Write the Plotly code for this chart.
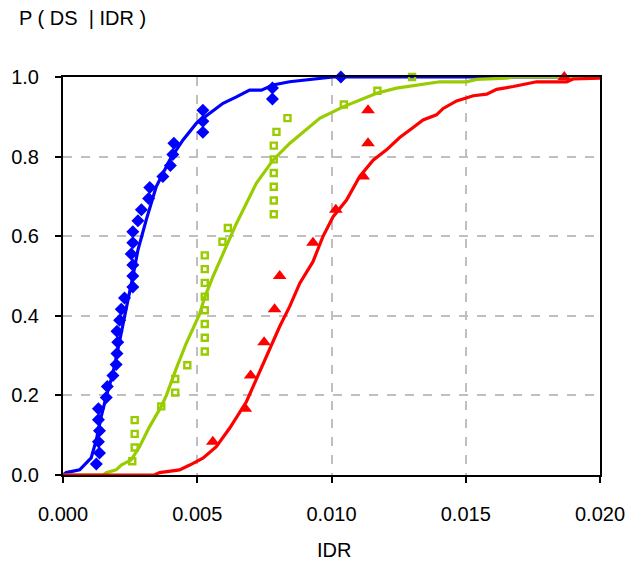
import plotly.graph_objects as go

# Observed damage-state data: interstory drift ratio (IDR) and cumulative probability
ds1_idr = [0.00124, 0.00136, 0.00132, 0.00136, 0.00132, 0.00132, 0.00161, 0.00165,
           0.00186, 0.00198, 0.00201, 0.00204, 0.00201, 0.00211, 0.00217, 0.00229,
           0.00260, 0.00260, 0.00260, 0.00254, 0.00260, 0.00260, 0.00279, 0.00292,
           0.00319, 0.00323, 0.00372, 0.00400, 0.00409, 0.00413, 0.00521, 0.00521,
           0.00521, 0.00780, 0.00780, 0.01035]
ds1_p = [i / 36 for i in range(1, 37)]

ds2_idr = [0.00258, 0.00267, 0.00267, 0.00267, 0.00366, 0.00418, 0.00418, 0.00463,
           0.00528, 0.00528, 0.00528, 0.00528, 0.00528, 0.00528, 0.00528, 0.00528,
           0.00594, 0.00614, 0.00785, 0.00785, 0.00785, 0.00785, 0.00785, 0.00785,
           0.00795, 0.00836, 0.01046, 0.01171, 0.01300]
ds2_p = [i / 29 for i in range(1, 30)]

ds3_idr = [0.00558, 0.00679, 0.00699, 0.00749, 0.00788, 0.00807, 0.00931, 0.01016,
           0.01118, 0.01136, 0.01136, 0.01867]
ds3_p = [i / 12 for i in range(1, 13)]

# Fitted fragility curves
fit1_x = [0.0, 0.00012, 0.00062, 0.00105, 0.00124, 0.00142, 0.00161, 0.00186, 0.00204,
          0.00223, 0.00242, 0.00260, 0.00279, 0.00310, 0.00347, 0.00397, 0.00447,
          0.00497, 0.00521, 0.00558, 0.00596, 0.00646, 0.00695, 0.00739, 0.00782,
          0.00844, 0.00907, 0.00956, 0.01006, 0.02]
fit1_y = [0.0, 0.006, 0.013, 0.043, 0.088, 0.146, 0.197, 0.256, 0.314, 0.373, 0.440,
          0.498, 0.565, 0.641, 0.724, 0.791, 0.842, 0.884, 0.896, 0.913, 0.934, 0.950,
          0.967, 0.967, 0.980, 0.988, 0.992, 0.997, 1.0, 1.0]

fit2_x = [0.0, 0.00150, 0.00161, 0.00198, 0.00217, 0.00254, 0.00285, 0.00322, 0.00366,
          0.00385, 0.00422, 0.00459, 0.00509, 0.00527, 0.00558, 0.00602, 0.00646,
          0.00720, 0.00782, 0.00844, 0.00907, 0.00956, 0.01043, 0.01105, 0.01168,
          0.01242, 0.01329, 0.01404, 0.01503, 0.01540, 0.01652, 0.01677, 0.02]
fit2_y = [0.0, 0.0, 0.006, 0.013, 0.025, 0.038, 0.071, 0.121, 0.172, 0.200, 0.268,
          0.331, 0.405, 0.445, 0.498, 0.565, 0.632, 0.733, 0.791, 0.833, 0.867, 0.896,
          0.925, 0.942, 0.959, 0.972, 0.980, 0.988, 0.988, 0.994, 0.997, 1.0, 1.0]

fit3_x = [0.0, 0.00340, 0.00360, 0.00434, 0.00472, 0.00521, 0.00571, 0.00621, 0.00683,
          0.00720, 0.00770, 0.00807, 0.00844, 0.00882, 0.00931, 0.00968, 0.01006,
          0.01056, 0.01105, 0.01155, 0.01205, 0.01254, 0.01304, 0.01341, 0.01391,
          0.01416, 0.01466, 0.01528, 0.01578, 0.01615, 0.01677, 0.01727, 0.01764,
          0.01876, 0.01900, 0.02]
fit3_y = [0.0, 0.0, 0.006, 0.013, 0.025, 0.042, 0.071, 0.118, 0.184, 0.239, 0.314,
          0.373, 0.423, 0.482, 0.536, 0.599, 0.649, 0.691, 0.750, 0.791, 0.817, 0.848,
          0.873, 0.892, 0.905, 0.921, 0.940, 0.953, 0.957, 0.969, 0.976, 0.982, 0.988,
          0.988, 0.995, 0.997]

x_ticks = [0.0, 0.005, 0.010, 0.015, 0.020]
x_ticktext = ["0.000", "0.005", "0.010", "0.015", "0.020"]
y_ticks = [0.0, 0.2, 0.4, 0.6, 0.8, 1.0]
y_ticktext = ["0.0", "0.2", "0.4", "0.6", "0.8", "1.0"]

BLUE = "#0000FF"
GREEN = "#99CC00"
RED = "#FF0000"

fig = go.Figure()

for xs, ys, col in [(fit1_x, fit1_y, BLUE), (fit2_x, fit2_y, GREEN), (fit3_x, fit3_y, RED)]:
    fig.add_trace(go.Scatter(x=xs, y=ys, mode="lines",
                             line=dict(color=col, width=3.2), showlegend=False,
                             hoverinfo="skip"))

fig.add_trace(go.Scatter(x=ds1_idr, y=ds1_p, mode="markers", cliponaxis=False,
                         marker=dict(symbol="diamond", size=10, color=BLUE),
                         showlegend=False))
fig.add_trace(go.Scatter(x=ds2_idr, y=ds2_p, mode="markers", cliponaxis=False,
                         marker=dict(symbol="square-open", size=6, color=GREEN,
                                     line=dict(color=GREEN, width=2.4)),
                         showlegend=False))
fig.add_trace(go.Scatter(x=ds3_idr, y=ds3_p, mode="markers", cliponaxis=False,
                         marker=dict(symbol="triangle-up", size=12, color=RED),
                         showlegend=False))

axis_font = dict(family="Liberation Sans, Arial, sans-serif", size=20, color="#000000")

fig.update_xaxes(range=[0, 0.02], tickvals=x_ticks, ticktext=x_ticktext,
                 showline=True, linecolor="#000000", linewidth=2, mirror=True,
                 ticks="outside", ticklen=6, tickwidth=2, tickcolor="#000000",
                 ticklabelstandoff=14,
                 showgrid=True, gridcolor="#BFBFBF", griddash="dash", gridwidth=2,
                 zeroline=False, tickfont=axis_font)
fig.update_yaxes(range=[0, 1], tickvals=y_ticks, ticktext=y_ticktext,
                 showline=True, linecolor="#000000", linewidth=2, mirror=True,
                 ticks="outside", ticklen=6, tickwidth=2, tickcolor="#000000",
                 ticklabelstandoff=12,
                 showgrid=True, gridcolor="#BFBFBF", griddash="dash", gridwidth=2,
                 zeroline=False, tickfont=axis_font)

fig.add_annotation(text="P ( DS  | IDR )", xref="paper", yref="paper",
                   x=-0.086, y=1.148, xanchor="left", yanchor="middle",
                   showarrow=False, font=axis_font)
fig.add_annotation(text="IDR", xref="paper", yref="paper",
                   x=0.505, y=-0.188, xanchor="center", yanchor="middle",
                   showarrow=False, font=axis_font)

fig.update_layout(width=644, height=570,
                  margin=dict(l=63, r=44, t=77, b=95),
                  plot_bgcolor="#FFFFFF", paper_bgcolor="#FFFFFF")

fig.write_html("out.html")
